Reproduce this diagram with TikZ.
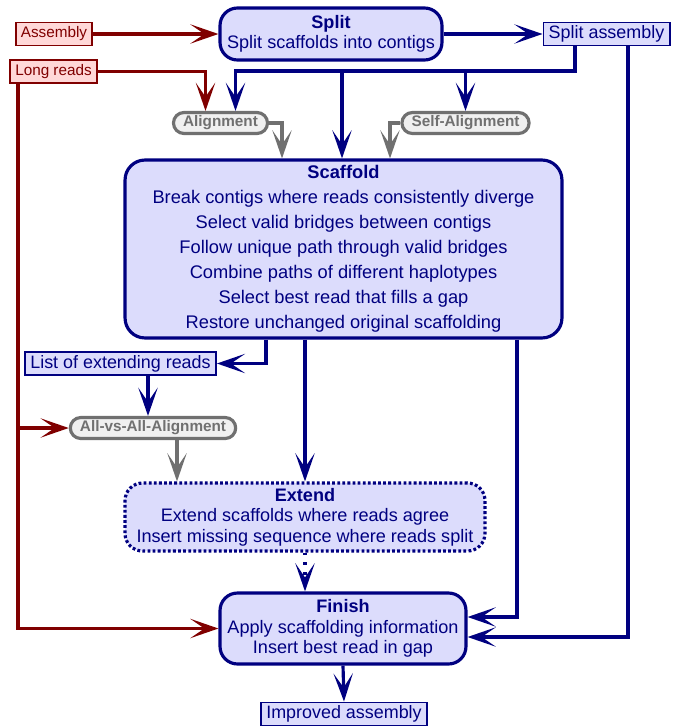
\documentclass[tikz,border=0pt]{standalone}
\usepackage{fontspec}
\setmainfont{Liberation Sans}
\usetikzlibrary{arrows.meta,calc}
\definecolor{navyblue}{HTML}{000080}
\definecolor{darkred}{HTML}{800000}
\definecolor{lavender}{HTML}{DCDCFC}
\definecolor{pinkfill}{HTML}{FFD8D8}
\definecolor{toolgray}{HTML}{707070}
\definecolor{toolfill}{HTML}{F0F0F0}

\begin{document}
\begin{tikzpicture}
[x=0.02cm,y=-0.02cm,
stage/.style={rectangle,rounded corners=0.35cm,draw=navyblue,fill=lavender,text=navyblue,line width=1.8pt,align=center,inner sep=0pt,font=\fontsize{10.3pt}{11.7pt}\selectfont},
datum/.style={rectangle,draw=navyblue,fill=lavender,text=navyblue,line width=1.1pt,inner xsep=3pt,inner ysep=0pt,minimum height=0.46cm,font=\fontsize{10.2pt}{12pt}\selectfont},
rawdata/.style={datum,draw=darkred,fill=pinkfill,text=darkred,font=\fontsize{8.7pt}{10pt}\selectfont},
tool/.style={rectangle,rounded corners=0.21cm,draw=toolgray,fill=toolfill,text=toolgray,line width=1.8pt,inner xsep=5.5pt,inner ysep=0pt,minimum height=0.42cm,font=\fontsize{8.7pt}{10pt}\selectfont\bfseries},
flow/.style={line width=1.8pt,-{Stealth[length=16pt,width=11pt,inset=8pt]}},
blueflow/.style={flow,navyblue},
redflow/.style={flow,darkred},
grayflow/.style={flow,toolgray}]
\useasboundingbox (0,0) rectangle (680,727);

% inputs
\node[rawdata] (asm) at (54,34) {Assembly};
\node[rawdata] (lr) at (53.5,71.5) {Long reads};

% split
\node[stage,minimum width=4.44cm,minimum height=1.04cm] (split) at (331,34) {\textbf{Split}\\Split scaffolds into contigs};
\node[datum] (splitasm) at (606.5,34) {Split assembly};

% alignments
\node[tool] (aln) at (220.5,123) {Alignment};
\node[tool] (selfaln) at (465.5,123) {Self-Alignment};

% scaffold
\node[stage,rounded corners=0.4cm,minimum width=8.74cm,minimum height=3.56cm,font=\fontsize{10.4pt}{14.2pt}\selectfont] (scaf) at (343.5,249)
  {\textbf{Scaffold}\\Break contigs where reads consistently diverge\\Select valid bridges between contigs\\Follow unique path through valid bridges\\Combine paths of different haplotypes\\Select best read that fills a gap\\Restore unchanged original scaffolding};

\node[datum] (lst) at (120.5,363.5) {List of extending reads};
\node[tool] (ava) at (153,428) {All-vs-All-Alignment};

% extend
\node[stage,dash pattern=on 1.6pt off 1.3pt,minimum width=7.2cm,minimum height=1.36cm] (ext) at (305,517)
  {\textbf{Extend}\\Extend scaffolds where reads agree\\Insert missing sequence where reads split};

% finish
\node[stage,minimum width=4.92cm,minimum height=1.42cm] (fin) at (343,628.5)
  {\textbf{Finish}\\Apply scaffolding information\\Insert best read in gap};
\node[datum] (impr) at (344,714) {Improved assembly};

\coordinate (hub) at (575,71);
\coordinate (lrd) at ($(lr.south)+(-35.5,0)$);

\draw[redflow] (asm) -- (split);
\draw[blueflow] (split) -- (splitasm);
\draw[redflow] (lr.east) -| ($(aln.north)+(-15,0)$);
\draw[blueflow] ($(splitasm.south)+(-31.5,0)$) -- (hub) -| ($(aln.north)+(15,0)$);
\draw[blueflow] (hub -| selfaln.north) -- (selfaln.north);
\draw[blueflow] (hub -| 342,0) -- (scaf.north -| 342,0);
\draw[grayflow] (aln.east) -| ($(scaf.north)+(-61.5,0)$);
\draw[grayflow] (selfaln.west) -| ($(scaf.north)+(46.5,0)$);
\draw[blueflow] ($(splitasm.south)+(21.5,0)$) |- ($(fin.east)+(0,8.5)$);

\draw[blueflow] ($(scaf.south)+(173.5,0)$) |- ($(fin.east)+(0,-11.5)$);
\draw[blueflow] ($(scaf.south)+(-77.5,0)$) |- (lst.east);
\draw[blueflow] (scaf.south -| ext.north) -- (ext.north);
\coordinate (lsd) at ($(lst.south)+(27.5,0)$);
\draw[blueflow] (lsd) -- (lsd |- ava.north);
\coordinate (avd) at ($(ava.south)+(24,0)$);
\draw[grayflow] (avd) -- (avd |- ext.north);
\draw[redflow] (lrd) |- (fin.west);
\draw[redflow] (lrd |- ava.west) -- (ava.west);

\draw[blueflow,dash pattern=on 1.6pt off 4pt] (ext.south) -- (fin.north -| ext.south);
\draw[blueflow] (fin.south) -- (impr.north);

\end{tikzpicture}
\end{document}
